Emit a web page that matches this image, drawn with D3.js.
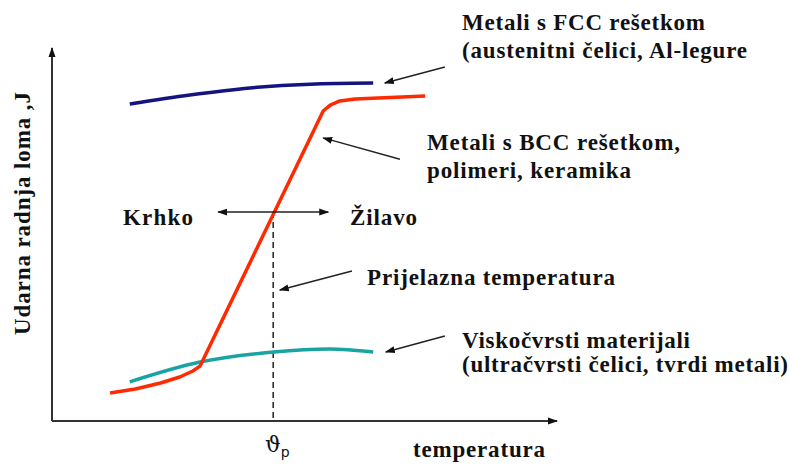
<!DOCTYPE html>
<html>
<head>
<meta charset="utf-8">
<script src="https://cdn.jsdelivr.net/npm/d3@7"></script>
<style>
  body { margin: 0; background: #fff; }
  text { font-family: "Liberation Serif", "Times New Roman", serif; font-weight: bold; fill: #111; }
</style>
</head>
<body>
<div id="chart"></div>
<script>
// curve data (temperature 0-100, impact energy 0-100)
const fccPoints = [[15.4, 85.0], [27.3, 87.4], [39.2, 89.3], [51.1, 90.3], [63.6, 90.6]];
const bccPoints = [[11.5, 7.5], [16.5, 8.6], [21.5, 10.2], [25.3, 11.8], [27.9, 13.4], [29.3, 14.7],
                   [53.7, 83.1], [55.1, 84.7], [57.0, 85.8], [60.0, 86.3], [73.9, 87.1]];
const viskoPoints = [[15.4, 10.5], [29.3, 15.8], [43.8, 18.5], [55.0, 19.3], [63.6, 18.5]];
const transitionTemp = 43.8;
const transitionEnergy = 56.0;

// annotation arrows [from, to]
const arrows = [
  [[77.8, 94.9], [65.9, 90.6]],
  [[68.9, 70.2], [53.7, 75.9]],
  [[59.4, 40.2], [45.1, 35.1]],
  [[77.8, 22.8], [66.1, 18.5]]
];
const krhkoArrow = [32.9, 54.7];

const labels = [
  { t: "Metali s FCC rešetkom", x: 462, y: 30, w: 243 },
  { t: "(austenitni čelici, Al-legure", x: 462, y: 58, w: 285 },
  { t: "Metali s BCC rešetkom,", x: 427, y: 150, w: 253 },
  { t: "polimeri, keramika", x: 427, y: 178, w: 204 },
  { t: "Krhko", x: 123, y: 225, w: 70 },
  { t: "Žilavo", x: 350, y: 225, w: 67 },
  { t: "Prijelazna temperatura", x: 367, y: 285, w: 248 },
  { t: "Viskočvrsti materijali", x: 462, y: 348, w: 228 },
  { t: "(ultračvrsti čelici, tvrdi metali)", x: 462, y: 372, w: 326 },
  { t: "temperatura", x: 413, y: 457, w: 132 }
];

const width = 790, height = 464;

const svg = d3.select("#chart").append("svg")
  .attr("width", width)
  .attr("height", height);

const x = d3.scaleLinear().domain([0, 100]).range([52, 557]);
const y = d3.scaleLinear().domain([0, 100]).range([421, 48]);

svg.append("defs").append("marker")
  .attr("id", "head")
  .attr("viewBox", "0 0 10 10")
  .attr("refX", 9).attr("refY", 5)
  .attr("markerWidth", 10).attr("markerHeight", 10)
  .attr("markerUnits", "userSpaceOnUse")
  .attr("orient", "auto-start-reverse")
  .append("path")
  .attr("d", "M0,1.5 L10,5 L0,8.5 Z")
  .attr("fill", "#111");

// axes
svg.append("line")
  .attr("x1", x(0)).attr("y1", y(0)).attr("x2", x(0)).attr("y2", y(100))
  .attr("stroke", "#333").attr("stroke-width", 2)
  .attr("marker-end", "url(#head)");
svg.append("line")
  .attr("x1", x(0)).attr("y1", y(0)).attr("x2", x(100)).attr("y2", y(0))
  .attr("stroke", "#333").attr("stroke-width", 2)
  .attr("marker-end", "url(#head)");

// transition temperature dashed line
svg.append("line")
  .attr("x1", x(transitionTemp)).attr("x2", x(transitionTemp))
  .attr("y1", y(transitionEnergy)).attr("y2", y(0) - 2)
  .attr("stroke", "#222").attr("stroke-width", 1.5)
  .attr("stroke-dasharray", "6,4");

const smooth = d3.line().x(d => x(d[0])).y(d => y(d[1])).curve(d3.curveMonotoneX);
const straight = d3.line().x(d => x(d[0])).y(d => y(d[1]));

svg.append("path").datum(fccPoints)
  .attr("d", smooth).attr("fill", "none")
  .attr("stroke", "#141480").attr("stroke-width", 3.5);

svg.append("path").datum(viskoPoints)
  .attr("d", smooth).attr("fill", "none")
  .attr("stroke", "#1aa3a3").attr("stroke-width", 3.5);

svg.append("path").datum(bccPoints)
  .attr("d", straight).attr("fill", "none")
  .attr("stroke", "#ff2a00").attr("stroke-width", 3.5)
  .attr("stroke-linejoin", "round");

// arrows
arrows.forEach(a => {
  svg.append("line")
    .attr("x1", x(a[0][0])).attr("y1", y(a[0][1]))
    .attr("x2", x(a[1][0])).attr("y2", y(a[1][1]))
    .attr("stroke", "#222").attr("stroke-width", 1.5)
    .attr("marker-end", "url(#head)");
});
svg.append("line")
  .attr("x1", x(krhkoArrow[0])).attr("x2", x(krhkoArrow[1]))
  .attr("y1", y(transitionEnergy)).attr("y2", y(transitionEnergy))
  .attr("stroke", "#222").attr("stroke-width", 1.5)
  .attr("marker-start", "url(#head)")
  .attr("marker-end", "url(#head)");

// texts
svg.selectAll(".lbl").data(labels).enter().append("text")
  .attr("class", "lbl")
  .attr("x", d => d.x).attr("y", d => d.y)
  .attr("textLength", d => d.w)
  .attr("lengthAdjust", "spacing")
  .style("font-size", "23px")
  .text(d => d.t);

svg.append("text")
  .attr("transform", "translate(30,335) rotate(-90)")
  .attr("textLength", 243)
  .attr("lengthAdjust", "spacing")
  .style("font-size", "23px")
  .text("Udarna radnja loma ,J");

const theta = svg.append("text")
  .attr("x", 265).attr("y", 452)
  .style("font-family", "'DejaVu Serif', serif")
  .style("font-weight", "normal")
  .style("font-size", "22px");
theta.append("tspan").text("ϑ");
theta.append("tspan").attr("dy", 5)
  .style("font-family", "'DejaVu Sans', sans-serif")
  .style("font-size", "14px").text("p");
</script>
</body>
</html>
